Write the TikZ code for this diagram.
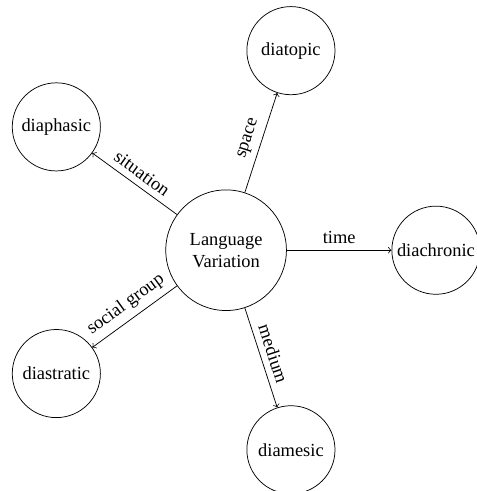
\documentclass[tikz,border=0pt]{standalone}
\usepackage{fontspec}
\setmainfont{Liberation Serif}

\begin{document}
\begin{tikzpicture}[
    hub/.style  = {draw, circle, align=center, inner sep=1pt, minimum size=2.3cm},
    leaf/.style = {draw, circle, inner sep=1pt, minimum size=1.68cm}
]

    % Distance of the outer circles
    \def\r{4}

    \useasboundingbox (-4.31,-4.59) rectangle (4.78,4.77);

    % Center
    \node[hub] (lv) at (0,0) {Language\\Variation};

    % Outer circles
    \node[leaf] (diachronic) at (  0:\r) {diachronic};
    \node[leaf] (diatopic)   at ( 72:\r) {diatopic};
    \node[leaf] (diaphasic)  at (144:\r) {diaphasic};
    \node[leaf] (diastratic) at (216:\r) {diastratic};
    \node[leaf] (diamesic)   at (288:\r) {diamesic};

    % Edges
    \draw[->] (lv) -- (diachronic) node[midway, above, sloped] {time};
    \draw[->] (lv) -- (diatopic)   node[midway, above, sloped] {space};
    \draw[->] (lv) -- (diaphasic)  node[midway, above, sloped] {situation};
    \draw[->] (lv) -- (diastratic) node[midway, above, sloped] {social group};
    \draw[->] (lv) -- (diamesic)   node[midway, above, sloped] {medium};

\end{tikzpicture}
\end{document}
